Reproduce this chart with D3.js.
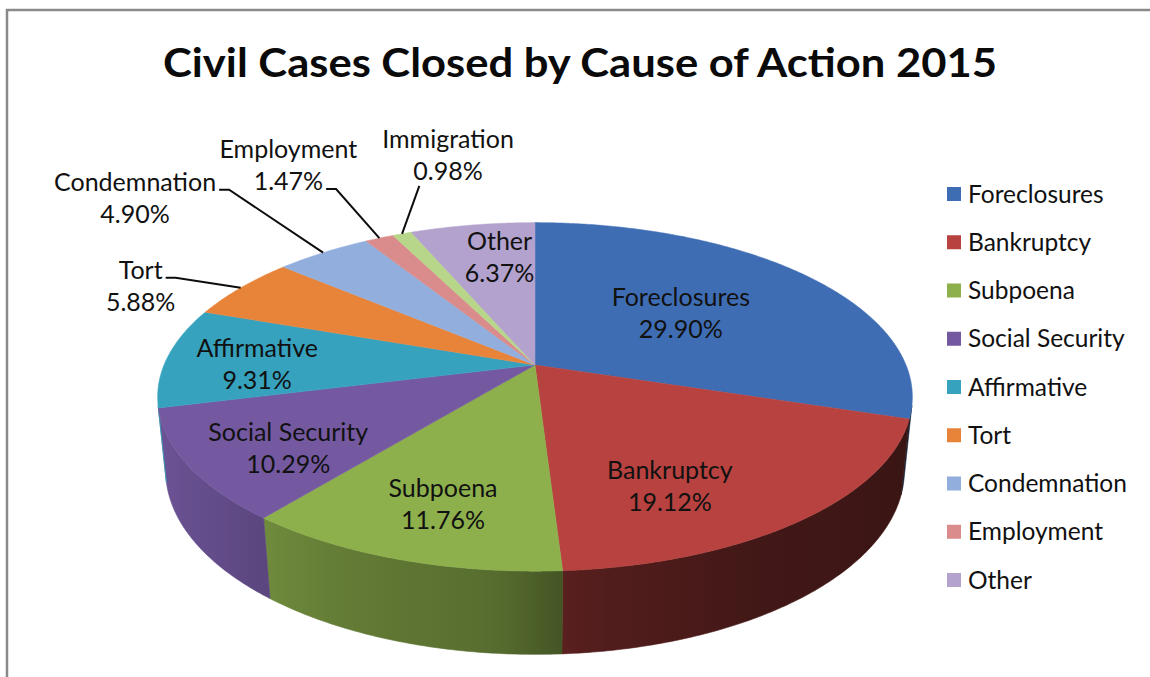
<!DOCTYPE html>
<html>
<head>
<meta charset="utf-8">
<script src="https://cdn.jsdelivr.net/npm/d3@7"></script>
<style>
  html, body { margin: 0; padding: 0; background: #fff; }
  svg { display: block; font-family: Lato, "Open Sans", sans-serif; }
</style>
</head>
<body>
<svg id="chart" width="1150" height="677"></svg>
<script>
// ---- data ----
const categories = ["Foreclosures", "Bankruptcy", "Subpoena", "Social Security", "Affirmative",
  "Tort", "Condemnation", "Employment", "Immigration", "Other"];
const shares = [29.90, 19.12, 11.76, 10.29, 9.31, 5.88, 4.90, 1.47, 0.98, 6.37];
const sliceColors = ["#3f6db4", "#b7423f", "#8db04c", "#7459a1", "#36a2be",
  "#e8843a", "#92aedc", "#d98c8b", "#b7d68a", "#b2a2cd"];
// the original legend leaves Immigration out
const legendCategories = categories.filter((c) => c !== "Immigration");
const titleText = "Civil Cases Closed by Cause of Action 2015";

// ---- layout ----
const W = 1150, H = 677;
const CX = 535, CY = 365;       // pie centre on screen
const HALF_W = 371;             // screen half width of the top face
const TILT = 27 * Math.PI / 180;
const PERSP = 0.2053;           // radius / camera distance
const THICK = 0.224;            // pie height / radius

// label placement: radius fraction + angle nudge (deg) for inside labels
const insideLabel = {
  "Foreclosures": { r: 0.53, turn: -2 },
  "Bankruptcy": { r: 0.71, turn: 11 },
  "Subpoena": { r: 0.75, turn: -1 },
  "Social Security": { r: 0.76, turn: -4 },
  "Affirmative": { r: 0.75, turn: -2 },
  "Other": { r: 0.735, turn: 3 },
};
// callouts: label centre offset from rim point, where the leader attaches
const callout = {
  "Tort": { dx: -100, dy: -2, attach: "end0" },
  "Condemnation": { dx: -188, dy: -55, attach: "end0" },
  "Employment": { dx: -91, dy: -73, attach: "end1" },
  "Immigration": { dx: 46, dy: -79, attach: "below" },
};

const svg = d3.select("#chart");
const defs = svg.append("defs");

// frame
svg.append("rect")
  .attr("x", 7).attr("y", 10)
  .attr("width", W + 20).attr("height", H + 20)
  .attr("fill", "none")
  .attr("stroke", "#8a8a8a")
  .attr("stroke-width", 2.5);

svg.append("text")
  .attr("x", 163).attr("y", 77)
  .attr("font-size", 40)
  .attr("font-weight", "bold")
  .attr("fill", "#0a0a0a")
  .attr("textLength", 834)
  .attr("lengthAdjust", "spacingAndGlyphs")
  .text(titleText);

// perspective projection of a point on the pie: a = angle clockwise from 12 o'clock,
// rf = radius fraction, h = height (0 top face, negative downwards) in radius units
function proj(a, rf, h) {
  const u = rf * Math.sin(a), v = rf * Math.cos(a);
  const den = 1 + PERSP * (v * Math.cos(TILT) - h * Math.sin(TILT));
  return [CX + HALF_W * u / den, CY - HALF_W * (v * Math.sin(TILT) + h * Math.cos(TILT)) / den];
}

const data = categories.map((c, i) => ({ name: c, value: shares[i], color: sliceColors[i] }));
const arcs = d3.pie().sort(null).value((d) => d.value)(data);

const line = d3.line();
const STEP = Math.PI / 360;

function arcPoints(a0, a1, h) {
  const n = Math.max(2, Math.ceil((a1 - a0) / STEP));
  const pts = [];
  for (let k = 0; k <= n; k++) pts.push(proj(a0 + (a1 - a0) * k / n, 1, h));
  return pts;
}

// visible part of the outer wall
const wallFrom = Math.acos(-PERSP / Math.cos(TILT));
const wallTo = 2 * Math.PI - wallFrom;
const shade = d3.scaleLinear()
  .domain([103, 150, 175, 185, 205, 230, 257])
  .range([0.3, 0.36, 0.46, 0.62, 0.7, 0.86, 0.95])
  .clamp(true);

const wallGroup = svg.append("g").attr("class", "walls");
arcs.forEach((d, i) => {
  const s = Math.max(d.startAngle, wallFrom);
  const e = Math.min(d.endAngle, wallTo);
  if (e <= s) return;
  const c = d3.rgb(d.data.color);
  const xs = proj(s, 1, 0)[0], xe = proj(e, 1, 0)[0];
  const grad = defs.append("linearGradient")
    .attr("id", "wall" + i)
    .attr("gradientUnits", "userSpaceOnUse")
    .attr("x1", xs).attr("x2", xe)
    .attr("y1", 0).attr("y2", 0);
  const n = 12;
  for (let k = 0; k <= n; k++) {
    const a = s + (e - s) * k / n;
    const x = proj(a, 1, 0)[0];
    const f = shade(a * 180 / Math.PI);
    grad.append("stop")
      .attr("offset", Math.abs(xe - xs) < 1e-6 ? 0 : (x - xs) / (xe - xs))
      .attr("stop-color", d3.rgb(c.r * f, c.g * f, c.b * f).formatHex());
  }
  const pts = arcPoints(s, e, 0).concat(arcPoints(s, e, -THICK).reverse());
  wallGroup.append("path")
    .attr("d", line(pts) + "Z")
    .attr("fill", `url(#wall${i})`)
    .attr("stroke", `url(#wall${i})`)
    .attr("stroke-width", 0.6);
});

const topGroup = svg.append("g").attr("class", "tops");
arcs.forEach((d) => {
  const pts = [proj(0, 0, 0)].concat(arcPoints(d.startAngle, d.endAngle, 0));
  topGroup.append("path")
    .attr("d", line(pts) + "Z")
    .attr("fill", d.data.color)
    .attr("stroke", d.data.color)
    .attr("stroke-width", 0.5);
});

const FS = 25, LH = 32;
const labelGroup = svg.append("g")
  .attr("font-size", FS)
  .attr("fill", "#111")
  .attr("text-anchor", "middle");

function twoLine(x, y, name, value) {
  const t = labelGroup.append("text");
  t.append("tspan").attr("x", x).attr("y", y - 7).text(name);
  t.append("tspan").attr("x", x).attr("y", y + LH - 7).text(value.toFixed(2) + "%");
  return t;
}

arcs.forEach((d) => {
  const mid = (d.startAngle + d.endAngle) / 2;
  const name = d.data.name;
  if (insideLabel[name]) {
    const o = insideLabel[name];
    const [x, y] = proj(mid + o.turn * Math.PI / 180, o.r, 0);
    twoLine(x, y, name, d.data.value);
  } else if (callout[name]) {
    const o = callout[name];
    const rim = proj(mid, 1, 0);
    const x = rim[0] + o.dx, y = rim[1] + o.dy;
    const t = twoLine(x, y, name, d.data.value);
    const spans = t.selectAll("tspan").nodes();
    let pts;
    if (o.attach === "below") {
      const w = spans[1].getComputedTextLength();
      pts = [[x - w / 2 + 6, y + LH - 7 + 6], rim];
    } else {
      const li = o.attach === "end0" ? 0 : 1;
      const w = spans[li].getComputedTextLength();
      const by = y - 7 + li * LH - 1;
      const p0 = [x + w / 2 + 3, by];
      pts = [p0, [p0[0] + 10, by], rim];
    }
    svg.append("path")
      .attr("d", line(pts))
      .attr("fill", "none")
      .attr("stroke", "#0d0d0d")
      .attr("stroke-width", 2);
  }
});

// legend
const legendY = d3.scalePoint().domain(legendCategories).range([194, 580]);
const legend = svg.append("g").attr("font-size", 24.5).attr("fill", "#111");
legendCategories.forEach((c) => {
  const i = categories.indexOf(c);
  const y = legendY(c);
  legend.append("rect")
    .attr("x", 947).attr("y", y - 7)
    .attr("width", 14).attr("height", 14)
    .attr("fill", sliceColors[i]);
  legend.append("text")
    .attr("x", 968).attr("y", y + 8.5)
    .text(c);
});
</script>
</body>
</html>
